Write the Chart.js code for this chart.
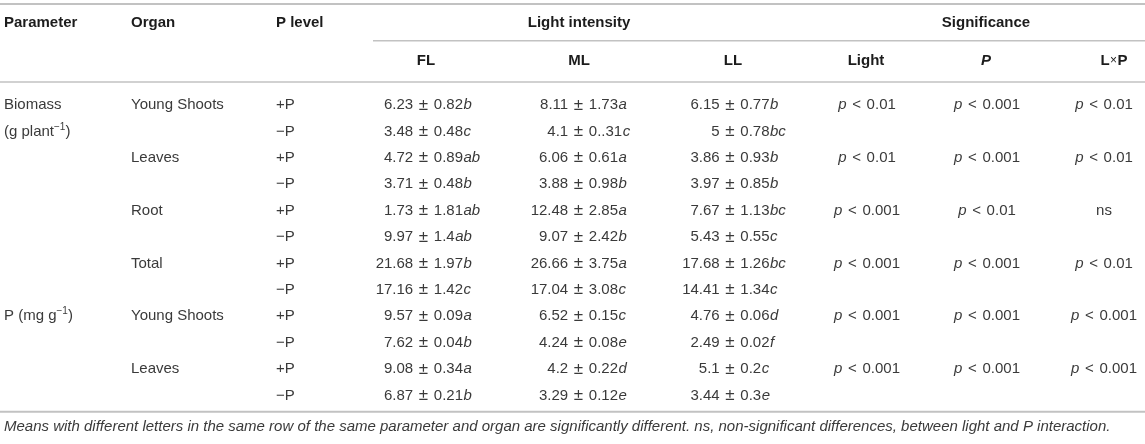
<!DOCTYPE html>
<html>
<head>
<meta charset="utf-8">
<script src="https://cdn.jsdelivr.net/npm/chart.js@4.4.0/dist/chart.umd.min.js"></script>
<style>
  html, body { margin: 0; padding: 0; background: #fff; }
  #wrap { width: 1145px; height: 444px; }
</style>
</head>
<body>
<div id="wrap"><canvas id="tableChart"></canvas></div>
<script>
// Table values
const organs = ['Young Shoots', 'Leaves', 'Root', 'Total', 'Young Shoots', 'Leaves'];
const pLevels = ['+P', '\u2212P'];

const flMean  = ['6.23', '3.48', '4.72', '3.71', '1.73', '9.97', '21.68', '17.16', '9.57', '7.62', '9.08', '6.87'];
const flSe    = ['0.82', '0.48', '0.89', '0.48', '1.81', '1.4', '1.97', '1.42', '0.09', '0.04', '0.34', '0.21'];
const flGroup = ['b', 'c', 'ab', 'b', 'ab', 'ab', 'b', 'c', 'a', 'b', 'a', 'b'];

const mlMean  = ['8.11', '4.1', '6.06', '3.88', '12.48', '9.07', '26.66', '17.04', '6.52', '4.24', '4.2', '3.29'];
const mlSe    = ['1.73', '0..31', '0.61', '0.98', '2.85', '2.42', '3.75', '3.08', '0.15', '0.08', '0.22', '0.12'];
const mlGroup = ['a', 'c', 'a', 'b', 'a', 'b', 'a', 'c', 'c', 'e', 'd', 'e'];

const llMean  = ['6.15', '5', '3.86', '3.97', '7.67', '5.43', '17.68', '14.41', '4.76', '2.49', '5.1', '3.44'];
const llSe    = ['0.77', '0.78', '0.93', '0.85', '1.13', '0.55', '1.26', '1.34', '0.06', '0.02', '0.2', '0.3'];
const llGroup = ['b', 'bc', 'b', 'b', 'bc', 'c', 'bc', 'c', 'd', 'f', 'c', 'e'];

const sigLight = ['0.01', '0.01', '0.001', '0.001', '0.001', '0.001'];
const sigP     = ['0.001', '0.001', '0.01', '0.001', '0.001', '0.001'];
const sigLxP   = ['0.01', '0.01', 'ns', '0.01', '0.001', '0.001'];

const footnote = 'Means with different letters in the same row of the same parameter and organ are significantly different. ns, non-significant differences, between light and P interaction.';

// layout: x in canvas units, y in row units (row 0 = first data row)
const COL = { param: 4, organ: 131, level: 276, fl: 423.5, ml: 578.5, ll: 730, light: 867, p: 987, lxp: 1104 };
const HEAD_X = { fl: 426, ml: 579, ll: 733, light: 866, p: 986, lxp: 1114 };
const ROW_TOP = 105, ROW_H = 26.4;
const HEAD1 = (23 - ROW_TOP) / ROW_H;
const HEAD2 = (61 - ROW_TOP) / ROW_H;
const FOOT = (427 - ROW_TOP) / ROW_H;
const RULES = [
  { y: (4 - ROW_TOP) / ROW_H, from: 0, w: 2 },
  { y: (40.7 - ROW_TOP) / ROW_H, from: 373, w: 1.5 },
  { y: (82 - ROW_TOP) / ROW_H, from: 0, w: 1.5 },
  { y: (411.7 - ROW_TOP) / ROW_H, from: 0, w: 2 }
];

const FAMILY = '"Liberation Sans", Arial, Helvetica, sans-serif';
const BODY = '#3a3a3a';
const HEAD = '#1c1c1c';

function fontFor(f, size) {
  switch (f) {
    case 'i': return 'italic ' + size + 'px ' + FAMILY;
    case 'b': return 'bold ' + size + 'px ' + FAMILY;
    case 'bi': return 'italic bold ' + size + 'px ' + FAMILY;
    case 'sup': return Math.round(size * 0.68) + 'px ' + FAMILY;
    case 'small': return Math.round(size * 0.8) + 'px ' + FAMILY;
    case 'big': return Math.round(size * 1.15) + 'px ' + FAMILY;
    default: return size + 'px ' + FAMILY;
  }
}

// segments: { t, f, anchor, pad } ; pad adds space on both sides of a glyph
function drawRich(ctx, segs, x, y, align, size, base, color) {
  const widths = segs.map(s => {
    ctx.font = fontFor(s.f || base, size);
    return ctx.measureText(s.t).width + 2 * (s.pad || 0);
  });
  const total = widths.reduce((a, b) => a + b, 0);
  let cur = x;
  if (align === 'center') cur = x - total / 2;
  else if (align === 'pm') {
    const k = segs.findIndex(s => s.anchor);
    let before = 0;
    for (let i = 0; i < k; i++) before += widths[i];
    cur = x - before - widths[k] / 2;
  }
  ctx.fillStyle = color;
  ctx.textBaseline = 'middle';
  ctx.textAlign = 'left';
  segs.forEach((s, i) => {
    ctx.font = fontFor(s.f || base, size);
    ctx.fillText(s.t, cur + (s.pad || 0), s.f === 'sup' ? y - size * 0.3 : y);
    cur += widths[i];
  });
}

const cellText = {
  id: 'cellText',
  afterDatasetsDraw(chart) {
    const ctx = chart.ctx;
    ctx.save();
    chart.data.datasets.forEach((ds, i) => {
      if (!ds.cells) return;
      chart.getDatasetMeta(i).data.forEach((el, j) => {
        drawRich(ctx, ds.data[j].segs, el.x, el.y, ds.cellAlign, ds.cellSize, ds.cellFont, ds.cellColor);
      });
    });
    ctx.restore();
  }
};

// build cell datasets from the arrays
const leftCells = [
  { x: COL.param, y: 0, segs: [{ t: 'Biomass' }] },
  { x: COL.param, y: 1, segs: [{ t: '(g plant' }, { t: '\u22121', f: 'sup' }, { t: ')' }] },
  { x: COL.param, y: 8, segs: [{ t: 'P (mg g' }, { t: '\u22121', f: 'sup' }, { t: ')' }] }
];
const measureCells = [];
const sigCells = [];
const sigText = s => s === 'ns' ? [{ t: 'ns' }] : [{ t: 'p', f: 'i' }, { t: ' <', pad: 1.5 }, { t: ' ' + s }];

for (let r = 0; r < flMean.length; r++) {
  const o = Math.floor(r / 2);
  if (r % 2 === 0) {
    leftCells.push({ x: COL.organ, y: r, segs: [{ t: organs[o] }] });
    sigCells.push({ x: COL.light, y: r, segs: sigText(sigLight[o]) });
    sigCells.push({ x: COL.p, y: r, segs: sigText(sigP[o]) });
    sigCells.push({ x: COL.lxp, y: r, segs: sigText(sigLxP[o]) });
  }
  leftCells.push({ x: COL.level, y: r, segs: [{ t: pLevels[r % 2] }] });
  [[COL.fl, flMean, flSe, flGroup], [COL.ml, mlMean, mlSe, mlGroup], [COL.ll, llMean, llSe, llGroup]]
    .forEach(([cx, m, se, g]) => {
      measureCells.push({ x: cx, y: r, segs: [
        { t: m[r] + ' ' }, { t: '\u00b1', f: 'big', anchor: true, pad: 1.5 }, { t: ' ' + se[r] }, { t: g[r], f: 'i', pad: 0.5 }
      ] });
    });
}

const headLeft = [
  { x: COL.param, y: HEAD1, segs: [{ t: 'Parameter' }] },
  { x: COL.organ, y: HEAD1, segs: [{ t: 'Organ' }] },
  { x: COL.level, y: HEAD1, segs: [{ t: 'P level' }] }
];
const headCenter = [
  { x: HEAD_X.ml, y: HEAD1, segs: [{ t: 'Light intensity' }] },
  { x: HEAD_X.p, y: HEAD1, segs: [{ t: 'Significance' }] },
  { x: HEAD_X.fl, y: HEAD2, segs: [{ t: 'FL' }] },
  { x: HEAD_X.ml, y: HEAD2, segs: [{ t: 'ML' }] },
  { x: HEAD_X.ll, y: HEAD2, segs: [{ t: 'LL' }] },
  { x: HEAD_X.light, y: HEAD2, segs: [{ t: 'Light' }] },
  { x: HEAD_X.p, y: HEAD2, segs: [{ t: 'P', f: 'bi' }] },
  { x: HEAD_X.lxp, y: HEAD2, segs: [{ t: 'L' }, { t: '\u00d7', f: 'small', pad: 0.5 }, { t: 'P' }] }
];

function cellSet(data, align, font, size, color) {
  return { type: 'scatter', cells: true, data, cellAlign: align, cellFont: font, cellSize: size, cellColor: color,
           pointRadius: 0, pointHoverRadius: 0, showLine: false };
}

const ruleSets = RULES.map(rule => ({
  type: 'line',
  data: [{ x: rule.from, y: rule.y }, { x: 1145, y: rule.y }],
  borderColor: '#c2c2c2',
  borderWidth: rule.w,
  pointRadius: 0,
  fill: false
}));

new Chart(document.getElementById('tableChart'), {
  type: 'scatter',
  data: {
    datasets: [
      ...ruleSets,
      cellSet(headLeft, 'left', 'b', 15, HEAD),
      cellSet(headCenter, 'center', 'b', 15, HEAD),
      cellSet(leftCells, 'left', 'r', 15, BODY),
      cellSet(measureCells, 'pm', 'r', 15, BODY),
      cellSet(sigCells, 'center', 'r', 15, BODY),
      cellSet([{ x: COL.param, y: FOOT, segs: [{ t: footnote }] }], 'left', 'i', 15, BODY)
    ]
  },
  options: {
    responsive: true,
    maintainAspectRatio: false,
    animation: false,
    events: [],
    layout: { padding: 0 },
    plugins: { legend: { display: false }, tooltip: { enabled: false } },
    scales: {
      x: { type: 'linear', display: false, min: 0, max: 1145 },
      y: { type: 'linear', display: false, reverse: true,
           min: -ROW_TOP / ROW_H, max: (444 - ROW_TOP) / ROW_H }
    }
  },
  plugins: [cellText]
});
</script>
</body>
</html>
